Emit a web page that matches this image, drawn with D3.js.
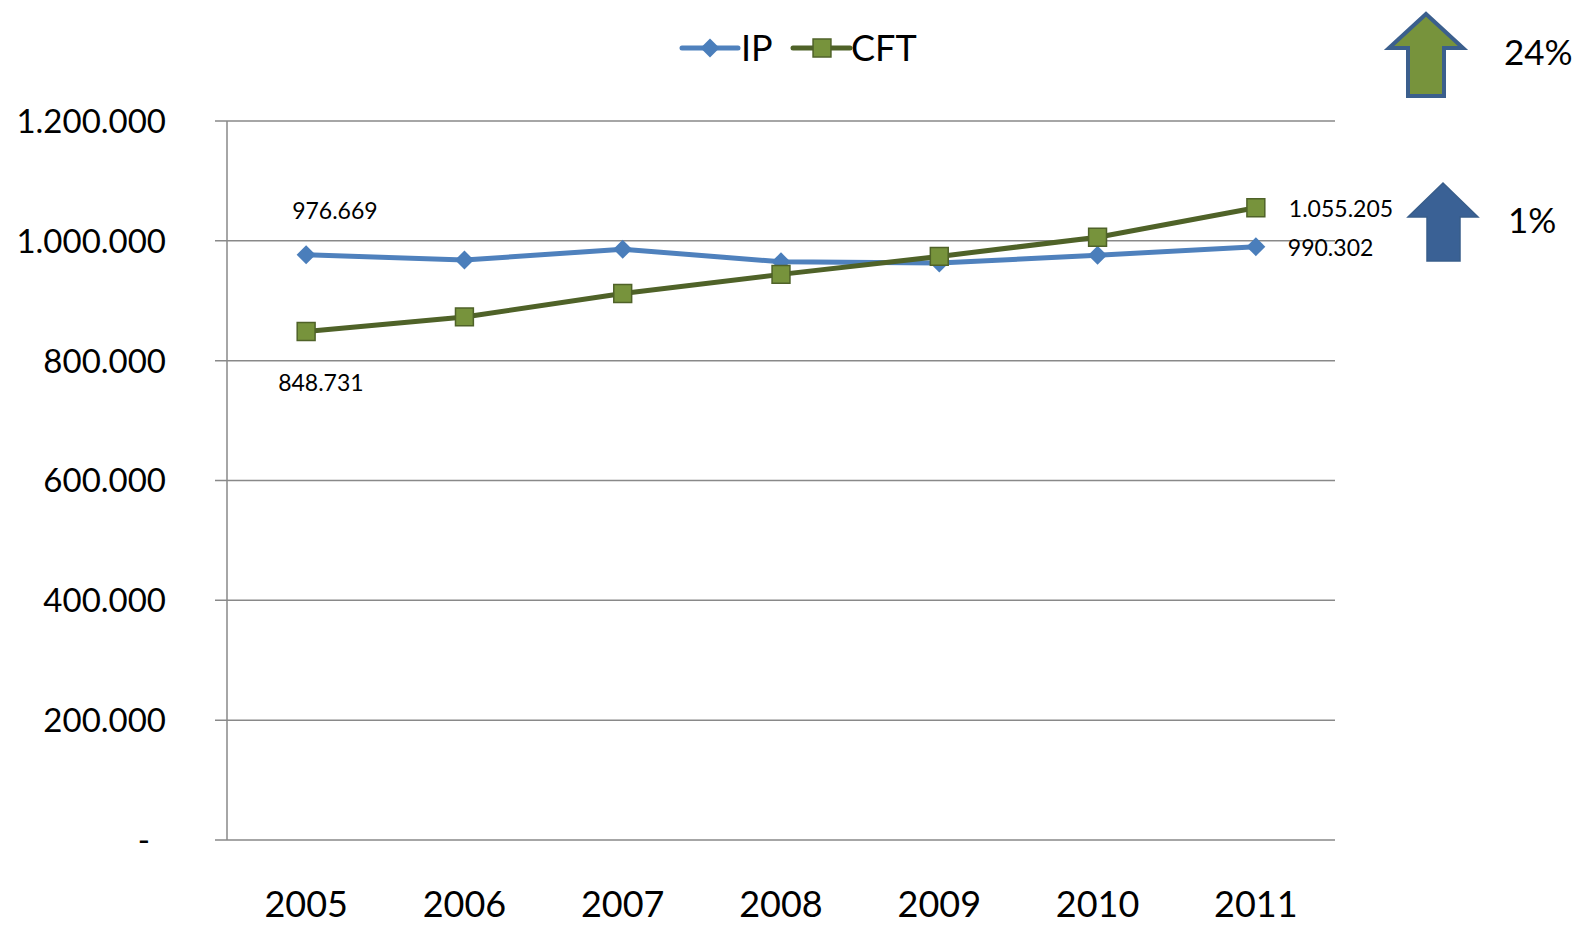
<!DOCTYPE html>
<html>
  <head>
    <style>
    body {
      font-family: Lato, "Open Sans", sans-serif;
      margin: 0;
      background: #fff;
    }
    </style>
  </head>
  <body>
    <script src="https://d3js.org/d3.v7.min.js"></script>
    <script>
    // chart data
    var years = ["2005", "2006", "2007", "2008", "2009", "2010", "2011"];
    var ipValues = [976669, 968000, 986000, 965000, 963000, 976000, 990302];
    var cftValues = [848731, 873000, 912000, 944000, 974000, 1006000, 1055205];
    var yTicks = [0, 200000, 400000, 600000, 800000, 1000000, 1200000];
    var seriesNames = ["IP", "CFT"];
    var growthLabels = ["24%", "1%"];

    var width = 1581, height = 926;
    var margin = {top: 121, left: 227, right: 246, bottom: 86};

    var svg = d3.select("body").append("svg")
        .attr("width", width)
        .attr("height", height);

    var x = d3.scaleBand()
        .domain(years)
        .range([margin.left, width - margin.right]);

    var y = d3.scaleLinear()
        .domain([0, 1200000])
        .range([height - margin.bottom, margin.top]);

    var loc = d3.formatLocale({decimal: ",", thousands: ".", grouping: [3], currency: ["", ""]});
    var fmt = loc.format(",d");

    // gridlines
    svg.append("g").selectAll("line")
        .data(yTicks)
      .enter().append("line")
        .attr("x1", margin.left - 12)
        .attr("x2", width - margin.right)
        .attr("y1", function(d) { return y(d); })
        .attr("y2", function(d) { return y(d); })
        .attr("stroke", "#898989")
        .attr("stroke-width", 1.5);

    svg.append("line")
        .attr("x1", margin.left).attr("x2", margin.left)
        .attr("y1", y(1200000)).attr("y2", y(0))
        .attr("stroke", "#898989")
        .attr("stroke-width", 1.5);

    // y labels
    svg.append("g").selectAll("text")
        .data(yTicks)
      .enter().append("text")
        .attr("x", function(d) { return d === 0 ? 150 : 166; })
        .attr("y", function(d) { return y(d); })
        .attr("dy", "0.36em")
        .attr("text-anchor", "end")
        .style("font-size", "33px")
        .text(function(d) { return d === 0 ? "-" : fmt(d); });

    // x labels
    svg.append("g").selectAll("text")
        .data(years)
      .enter().append("text")
        .attr("x", function(d) { return x(d) + x.bandwidth() / 2; })
        .attr("y", 917)
        .attr("text-anchor", "middle")
        .style("font-size", "36px")
        .text(function(d) { return d; });

    var line = d3.line()
        .x(function(d, i) { return x(years[i]) + x.bandwidth() / 2; })
        .y(function(d) { return y(d); });

    var diamond = d3.symbol().type(d3.symbolDiamond2).size(230);
    var square = d3.symbol().type(d3.symbolSquare).size(320);

    // IP
    svg.append("path")
        .datum(ipValues)
        .attr("d", line)
        .attr("fill", "none")
        .attr("stroke", "#4F81BD")
        .attr("stroke-width", 5)
        .attr("stroke-linejoin", "round");

    svg.append("g").selectAll("path")
        .data(ipValues)
      .enter().append("path")
        .attr("d", diamond)
        .attr("transform", function(d, i) { return "translate(" + (x(years[i]) + x.bandwidth() / 2) + "," + y(d) + ")"; })
        .attr("fill", "#4A7EBB");

    // CFT
    svg.append("path")
        .datum(cftValues)
        .attr("d", line)
        .attr("fill", "none")
        .attr("stroke", "#4F6228")
        .attr("stroke-width", 5)
        .attr("stroke-linejoin", "round");

    svg.append("g").selectAll("path")
        .data(cftValues)
      .enter().append("path")
        .attr("d", square)
        .attr("transform", function(d, i) { return "translate(" + (x(years[i]) + x.bandwidth() / 2) + "," + y(d) + ")"; })
        .attr("fill", "#77933C")
        .attr("stroke", "#4F6228")
        .attr("stroke-width", 1.5);

    // data labels (first and last)
    function cx(i) { return x(years[i]) + x.bandwidth() / 2; }
    var last = years.length - 1;
    var labels = [
      {x: cx(0) - 14, y: y(ipValues[0]) - 36, v: ipValues[0]},
      {x: cx(0) - 28, y: y(cftValues[0]) + 60, v: cftValues[0]},
      {x: cx(last) + 33, y: y(cftValues[last]) + 9, v: cftValues[last]},
      {x: cx(last) + 32, y: y(ipValues[last]) + 9, v: ipValues[last]}
    ];
    svg.append("g").selectAll("text")
        .data(labels)
      .enter().append("text")
        .attr("x", function(d) { return d.x; })
        .attr("y", function(d) { return d.y; })
        .style("font-size", "23px")
        .text(function(d) { return fmt(d.v); });

    // legend
    var lg = svg.append("g");
    lg.append("line").attr("x1", 682).attr("x2", 738).attr("y1", 48).attr("y2", 48)
        .attr("stroke", "#4F81BD").attr("stroke-width", 5).attr("stroke-linecap", "round");
    lg.append("path").attr("d", diamond).attr("transform", "translate(710,48)").attr("fill", "#4A7EBB");
    lg.append("text").attr("x", 741).attr("y", 61).style("font-size", "36px").text(seriesNames[0]);
    lg.append("line").attr("x1", 793).attr("x2", 850).attr("y1", 48).attr("y2", 48)
        .attr("stroke", "#4F6228").attr("stroke-width", 5).attr("stroke-linecap", "round");
    lg.append("path").attr("d", square).attr("transform", "translate(822,48)")
        .attr("fill", "#77933C").attr("stroke", "#4F6228").attr("stroke-width", 1.5);
    lg.append("text").attr("x", 851).attr("y", 61).style("font-size", "36px").text(seriesNames[1]);

    // growth arrows
    function arrow(l, r, top, neck, sl, sr, bottom) {
      var p = d3.path();
      p.moveTo((l + r) / 2, top);
      p.lineTo(r, neck);
      p.lineTo(sr, neck);
      p.lineTo(sr, bottom);
      p.lineTo(sl, bottom);
      p.lineTo(sl, neck);
      p.lineTo(l, neck);
      p.closePath();
      return p.toString();
    }

    svg.append("path")
        .attr("d", arrow(1389, 1463, 14, 48, 1408, 1444, 96))
        .attr("fill", "#77933C")
        .attr("stroke", "#3B5F8D")
        .attr("stroke-width", 4)
        .attr("stroke-linejoin", "miter");

    svg.append("path")
        .attr("d", arrow(1408, 1478, 183, 217, 1427, 1460, 261))
        .attr("fill", "#3A6195")
        .attr("stroke", "#385D8A")
        .attr("stroke-width", 1.5);

    svg.append("text").attr("x", 1504).attr("y", 65).style("font-size", "35px").text(growthLabels[0]);
    svg.append("text").attr("x", 1508).attr("y", 233).style("font-size", "35px").text(growthLabels[1]);
    </script>
  </body>
</html>
